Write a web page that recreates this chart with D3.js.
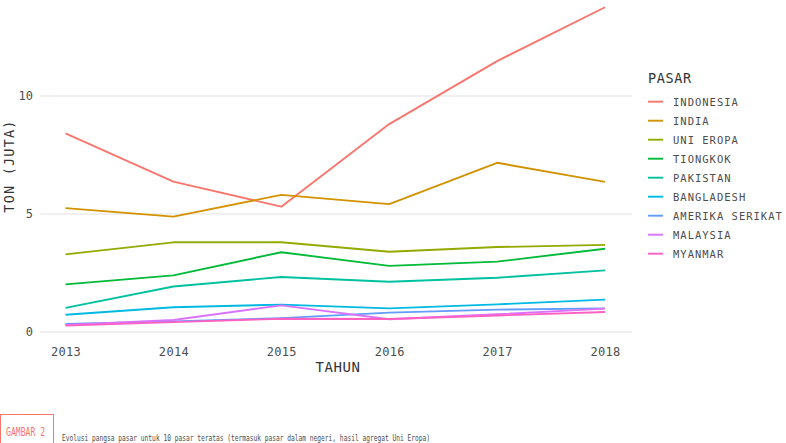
<!DOCTYPE html>
<html>
<head>
<meta charset="utf-8">
<script src="https://cdn.jsdelivr.net/npm/d3@7"></script>
<style>
  body { margin: 0; background: #fff; }
  svg { display: block; }
  text { font-family: "DejaVu Sans Mono", "Liberation Mono", monospace; }
</style>
</head>
<body>
<svg id="chart" width="786" height="443"></svg>
<script>
const years = [2013, 2014, 2015, 2016, 2017, 2018];
const markets = ["INDONESIA", "INDIA", "UNI EROPA", "TIONGKOK", "PAKISTAN", "BANGLADESH", "AMERIKA SERIKAT", "MALAYSIA", "MYANMAR"];
const colors = ["#F8766D", "#D39200", "#93AA00", "#00BA38", "#00C19F", "#00B9E3", "#619CFF", "#DB72FB", "#FF61C3"];
const indonesia = [8.42, 6.37, 5.31, 8.81, 11.48, 13.76];
const india = [5.25, 4.89, 5.81, 5.42, 7.17, 6.36];
const uniEropa = [3.29, 3.80, 3.80, 3.40, 3.60, 3.69];
const tiongkok = [2.02, 2.40, 3.38, 2.80, 2.98, 3.53];
const pakistan = [1.02, 1.93, 2.33, 2.13, 2.30, 2.61];
const bangladesh = [0.73, 1.05, 1.16, 1.00, 1.17, 1.37];
const amerikaSerikat = [0.34, 0.45, 0.59, 0.82, 0.95, 1.00];
const malaysia = [0.30, 0.51, 1.13, 0.54, 0.75, 0.99];
const myanmar = [0.27, 0.42, 0.56, 0.55, 0.70, 0.85];
const yTicks = [0, 5, 10];
const seriesValues = [indonesia, india, uniEropa, tiongkok, pakistan, bangladesh, amerikaSerikat, malaysia, myanmar];

const svg = d3.select("#chart");
const x = d3.scaleLinear().domain([2013, 2018]).range([65.5, 605]);
const y = d3.scaleLinear().domain([0, 10]).range([332, 96]);
const panelLeft = 40, panelRight = 632;

// gridlines
svg.append("g").selectAll("line").data(yTicks).join("line")
  .attr("x1", panelLeft).attr("x2", panelRight)
  .attr("y1", d => y(d)).attr("y2", d => y(d))
  .attr("stroke", "#ebebeb").attr("stroke-width", 1.4);

// y axis
const yAxis = svg.append("g").attr("transform", `translate(${panelLeft},0)`)
  .call(d3.axisLeft(y).tickValues(yTicks).tickSize(0).tickPadding(7));
yAxis.select(".domain").remove();
yAxis.selectAll("text").attr("font-size", 12).attr("fill", "#4d4d4d")
  .style("font-family", '"DejaVu Sans Mono", monospace');

// x axis
const xAxis = svg.append("g").attr("transform", `translate(0,344)`)
  .call(d3.axisBottom(x).tickValues(years).tickFormat(d3.format("d")).tickSize(0).tickPadding(3));
xAxis.select(".domain").remove();
xAxis.selectAll("text").attr("font-size", 12).attr("fill", "#4d4d4d")
  .attr("letter-spacing", 0.3)
  .style("font-family", '"DejaVu Sans Mono", monospace');

// axis titles
svg.append("text").attr("x", 338).attr("y", 372).attr("text-anchor", "middle")
  .attr("font-size", 14).attr("letter-spacing", 0.6).attr("fill", "#333")
  .text("TAHUN");
svg.append("text").attr("transform", "translate(14,166) rotate(-90)")
  .attr("text-anchor", "middle").attr("font-size", 13.5).attr("letter-spacing", 1.2)
  .attr("fill", "#333").text("TON (JUTA)");

// lines
const line = d3.line().x((d, i) => x(years[i])).y(d => y(d));
svg.append("g").selectAll("path").data(seriesValues).join("path")
  .attr("d", d => line(d))
  .attr("fill", "none")
  .attr("stroke", (d, i) => colors[i])
  .attr("stroke-width", 1.9)
  .attr("stroke-linejoin", "round");

// legend
const lg = svg.append("g");
lg.append("text").attr("x", 648).attr("y", 83).attr("font-size", 13.5)
  .attr("letter-spacing", 0.6).attr("fill", "#333").text("PASAR");
const items = lg.selectAll("g.item").data(markets).join("g")
  .attr("class", "item")
  .attr("transform", (d, i) => `translate(648,${101.7 + i * 19})`);
items.append("line").attr("x1", 0).attr("x2", 15).attr("y1", 0).attr("y2", 0)
  .attr("stroke", (d, i) => colors[i]).attr("stroke-width", 1.9);
items.append("text").attr("x", 25).attr("y", 3.8).attr("font-size", 10.5)
  .attr("letter-spacing", 1).attr("fill", "#4d4d4d").text(d => d);

// caption
svg.append("rect").attr("x", 0.5).attr("y", 414.5).attr("width", 53).attr("height", 40)
  .attr("fill", "none").attr("stroke", "#F8766D").attr("stroke-width", 1);
svg.append("text").attr("x", 6).attr("y", 436).attr("font-size", 12)
  .attr("textLength", 39).attr("lengthAdjust", "spacingAndGlyphs")
  .attr("fill", "#F8766D").text("GAMBAR 2");
svg.append("text").attr("x", 62).attr("y", 440.5).attr("font-size", 9)
  .attr("textLength", 368).attr("lengthAdjust", "spacingAndGlyphs")
  .attr("fill", "#4d4d4d")
  .text("Evolusi pangsa pasar untuk 10 pasar teratas (termasuk pasar dalam negeri, hasil agregat Uni Eropa)");
</script>
</body>
</html>
